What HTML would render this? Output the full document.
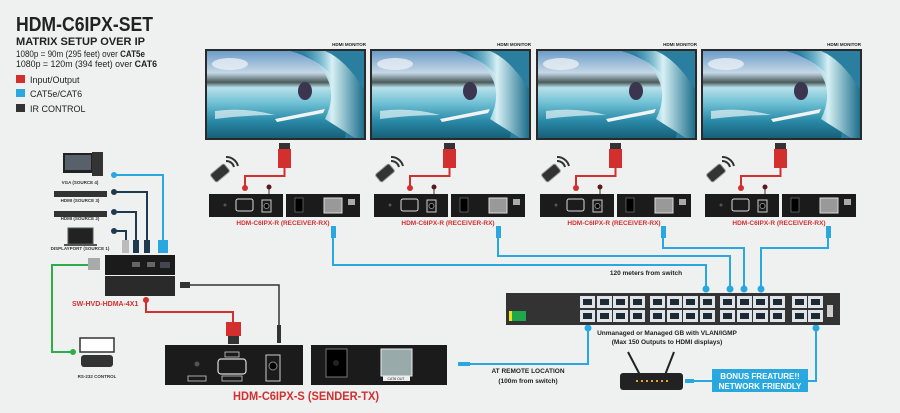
<!DOCTYPE html>
<html><head><meta charset="utf-8"><style>
body{margin:0;background:#eff1f1}
svg{display:block}
text{font-family:"Liberation Sans",sans-serif}
</style></head><body>
<svg width="900" height="413" viewBox="0 0 900 413" xmlns="http://www.w3.org/2000/svg">
<defs>
<linearGradient id="sky" x1="0" y1="0" x2="0" y2="1">
<stop offset="0" stop-color="#6c9cc8"/><stop offset="0.25" stop-color="#c5d8e6"/><stop offset="0.36" stop-color="#4a5a5a"/><stop offset="0.42" stop-color="#b8e0ea"/><stop offset="0.6" stop-color="#6fc0d4"/><stop offset="0.8" stop-color="#2a8aa8"/><stop offset="1" stop-color="#175f78"/></linearGradient>
<linearGradient id="wave" x1="0" y1="0" x2="1" y2="0"><stop offset="0" stop-color="#4fb0cc" stop-opacity="0"/><stop offset="0.5" stop-color="#d8f0f5"/><stop offset="1" stop-color="#1c6f8c"/></linearGradient>
<g id="mon">
<rect x="0" y="0" width="161" height="91" fill="#2a2a2a"/>
<rect x="2" y="2" width="157" height="87" fill="url(#sky)"/>
<ellipse cx="25" cy="15" rx="18" ry="6" fill="#e8eff5" opacity=".8"/>
<path d="M85 2 Q150 20 140 89 L159 89 L159 2 Z" fill="#2a7fa0"/>
<path d="M95 2 Q140 30 120 70 L150 89 L159 89 L159 40 Q140 10 120 2Z" fill="url(#wave)"/>
<path d="M10 62 Q40 58 70 66 Q40 66 10 70Z" fill="#e6f4f7" opacity=".7"/>
<ellipse cx="100" cy="42" rx="7" ry="9" fill="#3b3550"/>
<path d="M70 70 L120 60 L118 64 L72 73Z" fill="#f2f4f4"/>
</g>
<g id="rx">
<rect x="0" y="0" width="74" height="23" fill="#1b1b1b"/>
<rect x="77" y="0" width="74" height="23" fill="#1b1b1b"/>
<circle cx="16" cy="11" r="1.5" fill="#555"/>
<rect x="27" y="5" width="17" height="12" rx="2" fill="none" stroke="#ddd" stroke-width="1"/>
<rect x="53" y="6" width="9" height="12" fill="none" stroke="#ccc" stroke-width="1"/>
<circle cx="57.5" cy="12" r="2.5" fill="#000" stroke="#888"/>
<rect x="86" y="4" width="8" height="14" fill="#000" stroke="#888" stroke-width=".6"/>
<rect x="115" y="4" width="18" height="15" fill="#999" stroke="#ddd"/>
<rect x="139" y="5" width="7" height="6" fill="#aaa"/>
</g>
<g id="remote">
<rect x="-9" y="-5" width="18" height="10" rx="2" fill="#333" stroke="#999" transform="rotate(-40)"/>
<path d="M6 -12 a8 8 0 0 1 8 6 M6 -16 a12 12 0 0 1 12 9" stroke="#333" stroke-width="2" fill="none"/>
</g>
<g id="port"><rect x="0" y="0" width="15" height="12" fill="#dfe4e8"/><rect x="3" y="3" width="9" height="6" fill="#1e2a33"/></g>
</defs>

<!-- legend -->
<text x="16" y="31" font-size="20" font-weight="bold" fill="#222" textLength="137" lengthAdjust="spacingAndGlyphs">HDM-C6IPX-SET</text>
<text x="16" y="45" font-size="11" font-weight="bold" fill="#222" textLength="129" lengthAdjust="spacingAndGlyphs">MATRIX SETUP OVER IP</text>
<text x="16" y="57" font-size="9" fill="#222" textLength="129" lengthAdjust="spacingAndGlyphs">1080p = 90m (295 feet) over <tspan font-weight="bold">CAT5e</tspan></text>
<text x="16" y="67" font-size="9" fill="#222" textLength="141" lengthAdjust="spacingAndGlyphs">1080p = 120m (394 feet) over <tspan font-weight="bold">CAT6</tspan></text>
<rect x="16" y="75" width="9" height="8" fill="#d32f2f"/><text x="30" y="83" font-size="9" fill="#222">Input/Output</text>
<rect x="16" y="89" width="9" height="8" fill="#29a8e0"/><text x="30" y="97" font-size="9" fill="#222">CAT5e/CAT6</text>
<rect x="16" y="104" width="9" height="8" fill="#333"/><text x="30" y="112" font-size="9" fill="#222">IR CONTROL</text>

<!-- blue cables to switch -->
<g fill="none" stroke="#29a8e0" stroke-width="2">
<path d="M333 238 V265 H706 V289"/>
<path d="M498 238 V256 H730 V289"/>
<path d="M663 238 V248 H744 V289"/>
<path d="M828 238 V248 H761 V289"/>
<path d="M588 328 V364 H470"/>
<path d="M816 328 V381 H808"/>
<path d="M712 381 H692"/>
</g>
<g fill="#29a8e0"><circle cx="706" cy="289" r="3.5"/><circle cx="730" cy="289" r="3.5"/><circle cx="744" cy="289" r="3.5"/><circle cx="761" cy="289" r="3.5"/><circle cx="588" cy="328" r="3.5"/><circle cx="816" cy="328" r="3.5"/>
<rect x="458" y="362" width="12" height="4"/><rect x="685" y="379" width="9" height="4"/>
<rect x="331" y="226" width="5" height="12"/><rect x="496" y="226" width="5" height="12"/><rect x="661" y="226" width="5" height="12"/><rect x="826" y="226" width="5" height="12"/>
</g>

<!-- monitors & receivers -->
<g font-size="4.5" font-weight="bold" fill="#222">
<text x="366" y="46" text-anchor="end">HDMI MONITOR</text><text x="531" y="46" text-anchor="end">HDMI MONITOR</text><text x="697" y="46" text-anchor="end">HDMI MONITOR</text><text x="861" y="46" text-anchor="end">HDMI MONITOR</text>
</g>
<use href="#mon" x="205" y="49"/><use href="#mon" x="370" y="49"/><use href="#mon" x="536" y="49"/><use href="#mon" x="701" y="49"/>
<g id="g1">
<rect x="279" y="143" width="11" height="6" fill="#333"/><rect x="278" y="149" width="13" height="19" fill="#d32f2f"/>
<path d="M284.5 168 V176 H245 V187" stroke="#d32f2f" stroke-width="2" fill="none"/><circle cx="245" cy="188" r="3" fill="#d32f2f"/>
<line x1="269" y1="187" x2="269" y2="194" stroke="#333"/><circle cx="269" cy="187" r="2.5" fill="#5a1a1a"/>
<use href="#remote" x="220" y="173"/>
<use href="#rx" x="209" y="194"/>
</g>
<use href="#g1" x="165"/><use href="#g1" x="331"/><use href="#g1" x="496"/>
<g font-size="6.5" font-weight="bold" fill="#d32f2f" text-anchor="middle">
<text x="283" y="225">HDM-C6IPX-R (RECEIVER-RX)</text><text x="448" y="225">HDM-C6IPX-R (RECEIVER-RX)</text><text x="614" y="225">HDM-C6IPX-R (RECEIVER-RX)</text><text x="779" y="225">HDM-C6IPX-R (RECEIVER-RX)</text>
</g>

<!-- switch -->
<rect x="506" y="293" width="334" height="32" fill="#333"/>
<g fill="#1fa84a"><rect x="509" y="311" width="17" height="10"/></g><rect x="509" y="311" width="3" height="10" fill="#f0e020"/>
<g>
<use href="#port" x="580" y="296"/><use href="#port" x="597" y="296"/><use href="#port" x="613" y="296"/><use href="#port" x="630" y="296"/>
<use href="#port" x="650" y="296"/><use href="#port" x="667" y="296"/><use href="#port" x="683" y="296"/><use href="#port" x="700" y="296"/>
<use href="#port" x="720" y="296"/><use href="#port" x="737" y="296"/><use href="#port" x="753" y="296"/><use href="#port" x="770" y="296"/>
<use href="#port" x="792" y="296"/><use href="#port" x="808" y="296"/>
<use href="#port" x="580" y="310"/><use href="#port" x="597" y="310"/><use href="#port" x="613" y="310"/><use href="#port" x="630" y="310"/>
<use href="#port" x="650" y="310"/><use href="#port" x="667" y="310"/><use href="#port" x="683" y="310"/><use href="#port" x="700" y="310"/>
<use href="#port" x="720" y="310"/><use href="#port" x="737" y="310"/><use href="#port" x="753" y="310"/><use href="#port" x="770" y="310"/>
<use href="#port" x="792" y="310"/><use href="#port" x="808" y="310"/>
</g>
<rect x="827" y="305" width="6" height="12" fill="#ccc"/>
<g font-size="6.5" font-weight="bold" fill="#222" text-anchor="middle">
<text x="646" y="275">120 meters from switch</text>
<text x="667" y="335">Unmanaged or Managed GB with VLAN/IGMP</text>
<text x="667" y="344">(Max 150 Outputs to HDMI displays)</text>
<text x="528" y="373">AT REMOTE LOCATION</text>
<text x="528" y="383">(100m from switch)</text>
</g>
<!-- router -->
<line x1="628" y1="352" x2="640" y2="375" stroke="#222" stroke-width="2"/><line x1="674" y1="352" x2="665" y2="375" stroke="#222" stroke-width="2"/>
<rect x="620" y="373" width="63" height="17" rx="3" fill="#222"/>
<g fill="#e8a030"><rect x="636" y="380" width="2" height="2"/><rect x="641" y="380" width="2" height="2"/><rect x="646" y="380" width="2" height="2"/><rect x="651" y="380" width="2" height="2"/><rect x="656" y="380" width="2" height="2"/><rect x="661" y="380" width="2" height="2"/><rect x="666" y="380" width="2" height="2"/></g>
<rect x="712" y="369" width="96" height="23" fill="#29a8e0"/>
<g font-size="8" font-weight="bold" fill="#fff" text-anchor="middle"><text x="760" y="379">BONUS FREATURE!!</text><text x="760" y="389">NETWORK FRIENDLY</text></g>

<!-- sources -->
<g fill="none" stroke-width="2">
<path d="M114 175 H163 V240" stroke="#29a8e0"/>
<path d="M114 192 H147 V240" stroke="#1e3a4f"/>
<path d="M114 212 H136 V240" stroke="#1e3a4f"/>
<path d="M114 231 H126 V240" stroke="#1e3a4f"/>
<path d="M90 265 H52 V352 H73" stroke="#2eac4a"/>
</g>
<g fill="#1e3a4f"><circle cx="114" cy="192" r="3"/><circle cx="114" cy="212" r="3"/><circle cx="114" cy="231" r="3"/></g>
<circle cx="114" cy="175" r="3" fill="#29a8e0"/><circle cx="73" cy="352" r="3" fill="#2eac4a"/>
<rect x="122" y="240" width="7" height="13" fill="#bbb"/><rect x="133" y="240" width="6" height="13" fill="#1e3a4f"/><rect x="144" y="240" width="6" height="13" fill="#1e3a4f"/><rect x="158" y="240" width="10" height="13" fill="#29a8e0"/>
<rect x="63" y="153" width="30" height="20" fill="#222"/><rect x="65" y="155" width="26" height="15" fill="#58606a"/><rect x="92" y="152" width="11" height="24" fill="#333"/>
<rect x="54" y="191" width="53" height="6" fill="#333"/><rect x="54" y="211" width="53" height="6" fill="#333"/>
<rect x="68" y="228" width="25" height="16" fill="#222" stroke="#555"/><rect x="64" y="244" width="33" height="2" fill="#555"/>
<g font-size="4.5" font-weight="bold" fill="#333" text-anchor="middle">
<text x="80" y="184">VGA (SOURCE 4)</text><text x="80" y="202">HDMI (SOURCE 3)</text><text x="80" y="220">HDMI (SOURCE 2)</text><text x="80" y="250">DISPLAYPORT (SOURCE 1)</text><text x="97" y="378">RS-232 CONTROL</text>
</g>
<rect x="88" y="258" width="12" height="12" fill="#aaa"/>
<rect x="105" y="255" width="70" height="20" fill="#1b1b1b"/><rect x="105" y="276" width="70" height="20" fill="#2a2a2a"/>
<rect x="132" y="262" width="8" height="5" fill="#666"/><rect x="147" y="262" width="8" height="5" fill="#666"/><rect x="160" y="262" width="10" height="6" fill="#445"/>
<text x="72" y="306" font-size="7" font-weight="bold" fill="#d32f2f">SW-HVD-HDMA-4X1</text>
<rect x="80" y="338" width="34" height="14" fill="#fff" stroke="#333" stroke-width="1.5"/><rect x="81" y="355" width="32" height="12" rx="3" fill="#333"/>
<!-- red and audio to sender -->
<path d="M146 300 V312 H233 V322" stroke="#d32f2f" stroke-width="2" fill="none"/><circle cx="146" cy="300" r="3" fill="#d32f2f"/>
<rect x="226" y="322" width="15" height="14" fill="#d32f2f"/><rect x="228" y="336" width="11" height="8" fill="#333"/>
<path d="M190 285 H279 V330" stroke="#333" stroke-width="1.5" fill="none"/><rect x="180" y="282" width="10" height="6" fill="#333"/><rect x="277" y="325" width="4" height="18" fill="#333"/>
<!-- sender -->
<rect x="165" y="345" width="138" height="40" fill="#1b1b1b"/><rect x="311" y="345" width="136" height="40" fill="#1b1b1b"/>
<circle cx="197" cy="364" r="2.5" fill="#555"/><rect x="188" y="376" width="18" height="5" fill="none" stroke="#ccc" stroke-width=".8"/>
<rect x="218" y="359" width="28" height="15" rx="3" fill="none" stroke="#ddd" stroke-width="1.2"/><rect x="225" y="352" width="14" height="5" fill="none" stroke="#ccc" stroke-width=".8"/><rect x="222" y="376" width="20" height="5" fill="none" stroke="#ccc" stroke-width=".8"/>
<rect x="266" y="355" width="14" height="26" fill="none" stroke="#ccc" stroke-width="1"/><circle cx="273" cy="366" r="4" fill="#000" stroke="#888"/>
<rect x="326" y="349" width="21" height="28" fill="#000" stroke="#777"/><circle cx="336" cy="363" r="3" fill="#222"/>
<rect x="381" y="349" width="31" height="27" fill="#9aa" stroke="#eee"/><rect x="383" y="376" width="27" height="5" fill="#eee"/>
<g font-size="3.5" fill="#222" text-anchor="middle"><text x="396" y="380">CAT6 OUT</text></g>
<text x="233" y="400" font-size="12" font-weight="bold" fill="#d32f2f" textLength="146" lengthAdjust="spacingAndGlyphs">HDM-C6IPX-S (SENDER-TX)</text>
</svg>
</body></html>
